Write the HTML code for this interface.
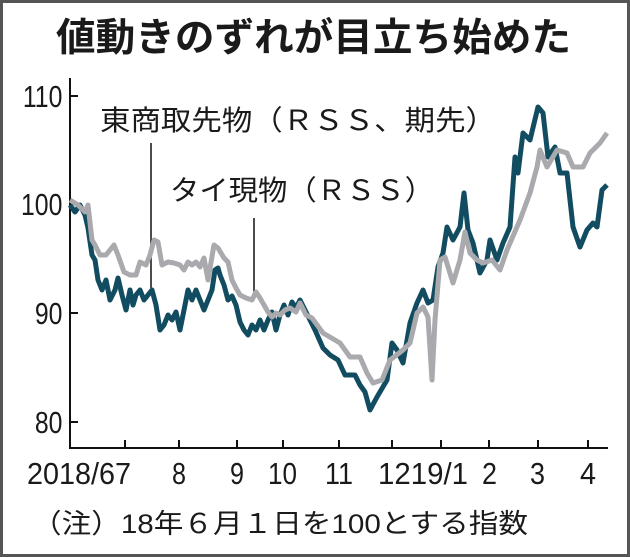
<!DOCTYPE html>
<html><head><meta charset="utf-8"><style>
html,body{margin:0;padding:0;background:#fff}
svg{display:block}
text{font-family:"Liberation Sans","Noto Sans CJK JP",sans-serif;fill:#1a1a1a}
</style></head><body>
<svg width="630" height="557" viewBox="0 0 630 557" xmlns="http://www.w3.org/2000/svg">
<rect x="1.5" y="1.5" width="627" height="554" fill="#fff" stroke="#555" stroke-width="3"/>
<text x="56" y="51" font-size="39" font-weight="bold" textLength="515" lengthAdjust="spacingAndGlyphs" style="font-family:'Noto Sans CJK JP',sans-serif" fill="#111">値動きのずれが目立ち始めた</text>
<g stroke="#111" stroke-width="2" fill="none">
<path d="M70,78 V448 H608"/>
<path d="M70,96 h8 M70,204 h8 M70,313 h8 M70,422 h8"/>
<path d="M125,448 v-8 M179,448 v-8 M237,448 v-8 M283,448 v-8 M339,448 v-8 M392,448 v-8 M441,448 v-8 M489,448 v-8 M538,448 v-8 M588,448 v-8"/>
</g>
<g font-size="31" text-anchor="end" transform="scale(0.8,1)">
<text x="78" y="107">110</text>
<text x="78" y="215">100</text>
<text x="78" y="324">90</text>
<text x="78" y="433">80</text>
</g>
<g font-size="31">
<text x="27" y="484" textLength="104" lengthAdjust="spacingAndGlyphs">2018/67</text>
<text x="172" y="484" textLength="14" lengthAdjust="spacingAndGlyphs">8</text>
<text x="230" y="484" textLength="14" lengthAdjust="spacingAndGlyphs">9</text>
<text x="268" y="484" textLength="29" lengthAdjust="spacingAndGlyphs">10</text>
<text x="325" y="484" textLength="28" lengthAdjust="spacingAndGlyphs">11</text>
<text x="378" y="484" textLength="90" lengthAdjust="spacingAndGlyphs">1219/1</text>
<text x="482" y="484" textLength="15" lengthAdjust="spacingAndGlyphs">2</text>
<text x="530" y="484" textLength="15" lengthAdjust="spacingAndGlyphs">3</text>
<text x="580" y="484" textLength="16" lengthAdjust="spacingAndGlyphs">4</text>
</g>
<text x="32" y="533" font-size="27" textLength="496" lengthAdjust="spacingAndGlyphs">（注）18年６月１日を100とする指数</text>
<text x="100" y="130" font-size="28" textLength="396" lengthAdjust="spacingAndGlyphs">東商取先物（ＲＳＳ、期先）</text>
<text x="170" y="200" font-size="28" textLength="264" lengthAdjust="spacingAndGlyphs">タイ現物（ＲＳＳ）</text>
<path d="M151,143 V288 M254,218 V292" stroke="#111" stroke-width="1.5"/>
<polyline fill="none" stroke="#124c60" stroke-width="5" stroke-linejoin="round" points="70,205 75,212 80,205 85,215 88,228 92,255 95,260 98,280 102,290 106,280 110,300 115,290 118,278 122,295 126,310 130,290 133,305 136,295 140,290 144,300 148,295 152,290 156,305 160,330 164,325 168,315 172,320 176,312 180,330 184,310 188,290 192,300 196,290 200,300 204,310 208,300 212,290 215,270 218,268 220,275 224,285 228,300 232,296 236,305 240,322 244,330 248,335 252,325 256,330 260,320 264,330 268,320 272,312 276,330 280,315 284,305 288,315 292,302 296,308 300,300 305,310 310,320 315,330 323,348 330,355 338,360 345,375 355,375 360,385 365,392 370,410 377,397 387,380 392,343 397,350 403,363 410,323 417,303 423,290 428,303 433,300 438,267 443,253 447,227 453,240 460,227 464,193 468,230 473,243 480,273 487,260 490,240 497,260 503,243 510,227 515,157 518,173 523,133 530,140 538,107 543,113 548,157 555,147 560,173 567,173 573,227 580,247 587,230 593,223 597,227 602,190 607,185"/>
<polyline fill="none" stroke="#a9a9ae" stroke-width="5" stroke-linejoin="round" points="70,200 78,205 85,212 88,205 92,240 95,245 100,255 106,255 110,250 114,245 118,255 124,272 130,275 136,275 140,262 146,265 150,255 154,240 158,242 162,265 168,262 174,263 180,265 184,270 188,262 192,265 196,262 200,267 204,258 208,280 214,245 218,248 224,258 228,262 232,280 236,288 240,295 246,298 252,300 256,292 260,298 264,305 268,312 272,317 276,313 280,315 285,310 290,308 296,312 300,303 306,315 312,318 323,333 340,343 350,357 360,357 367,373 373,383 382,380 390,360 403,350 410,343 417,313 423,307 428,317 432,380 435,320 440,260 445,257 453,283 460,260 465,232 470,253 477,260 483,263 492,260 500,270 507,250 520,220 530,193 537,167 540,150 547,167 557,150 567,153 573,167 583,167 590,153 600,143 607,133"/>
</svg>
</body></html>
